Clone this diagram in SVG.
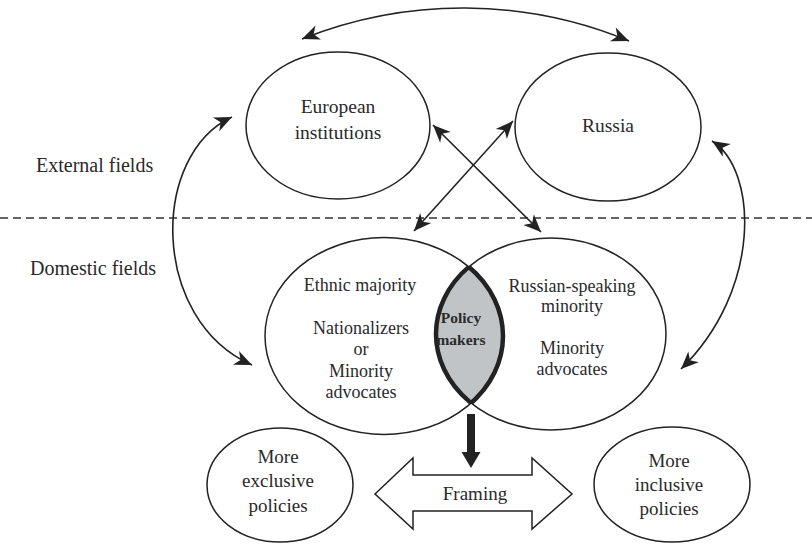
<svg xmlns="http://www.w3.org/2000/svg" width="812" height="544" viewBox="0 0 812 544">
  <style>
    .shape { fill: none; stroke: #222; stroke-width: 1.5; }
    .conn { fill: none; stroke: #222; stroke-width: 1.6; marker-start: url(#dart); marker-end: url(#dart); }
    text { font-family: "Liberation Serif", "Times New Roman", serif; fill: #2a2a2a; text-anchor: middle; }
    .top { font-size: 19.5px; }
    .side { font-size: 20px; text-anchor: start; }
    .venn { font-size: 18px; }
    .bold { font-size: 15.5px; font-weight: bold; }
    .low { font-size: 19px; }
  </style>
  <defs>
    <marker id="dart" viewBox="-19 -9 21 18" refX="0" refY="0" markerWidth="21" markerHeight="18" markerUnits="userSpaceOnUse" orient="auto-start-reverse">
      <path d="M0,0 L-17.5,-7.5 L-12.5,0 L-17.5,7.5 Z" fill="#222"/>
    </marker>
    <clipPath id="clipLeft"><ellipse cx="384" cy="336" rx="119" ry="98.5"/></clipPath>
    <clipPath id="clipRight"><ellipse cx="551" cy="334" rx="115" ry="96"/></clipPath>
  </defs>

  <rect width="812" height="544" fill="#fff"/>

  <!-- field divider and field labels -->
  <line x1="0" y1="218" x2="812" y2="218" stroke="#333" stroke-width="1.3" stroke-dasharray="8 5"/>
  <text class="side" x="36" y="172">External fields</text>
  <text class="side" x="30" y="275">Domestic fields</text>

  <!-- connectors -->
  <g id="connectors">
    <path class="conn" d="M302,39 A434,434 0 0 1 629,41"/>
    <path class="conn" d="M433,125 L541,232"/>
    <path class="conn" d="M513,121 L414,231"/>
    <path class="conn" d="M232,117 C150,155 150,320 252,365"/>
    <path class="conn" d="M712,141 C758,170 762,290 681,369"/>
  </g>

  <g id="european-institutions">
    <ellipse class="shape" cx="338" cy="125.5" rx="92" ry="73.5"/>
    <text class="top" x="338" y="113">European</text>
    <text class="top" x="338" y="139">institutions</text>
  </g>

  <g id="russia">
    <ellipse class="shape" cx="608" cy="127" rx="93" ry="74"/>
    <text class="top" x="608" y="132">Russia</text>
  </g>

  <g id="ethnic-majority">
    <ellipse class="shape" cx="384" cy="336" rx="119" ry="98.5"/>
    <text class="venn" x="360" y="291">Ethnic majority</text>
    <text class="venn" x="361" y="334">Nationalizers</text>
    <text class="venn" x="361" y="355">or</text>
    <text class="venn" x="361" y="377">Minority</text>
    <text class="venn" x="361" y="398">advocates</text>
  </g>

  <g id="russian-speaking-minority">
    <ellipse class="shape" cx="551" cy="334" rx="115" ry="96"/>
    <text class="venn" x="572" y="292">Russian-speaking</text>
    <text class="venn" x="572" y="312">minority</text>
    <text class="venn" x="572" y="354">Minority</text>
    <text class="venn" x="572" y="375">advocates</text>
  </g>

  <g id="policy-makers">
    <g clip-path="url(#clipRight)">
      <ellipse cx="384" cy="336" rx="119" ry="98.5" fill="#c1c4c7" stroke="#222" stroke-width="4.5"/>
    </g>
    <g clip-path="url(#clipLeft)">
      <ellipse cx="551" cy="334" rx="115" ry="96" fill="none" stroke="#222" stroke-width="4.5"/>
    </g>
    <text class="bold" x="461" y="323">Policy</text>
    <text class="bold" x="461" y="345">makers</text>
  </g>

  <g id="output-arrow">
    <rect x="467" y="414" width="8" height="40" fill="#222"/>
    <path d="M461.5,452 L480.5,452 L471,468 Z" fill="#222"/>
  </g>

  <g id="framing">
    <path class="shape" d="M375,494 L413,458 L413,475 L532,475 L532,458 L572,494 L532,529 L532,511 L413,511 L413,529 Z" fill="#fff"/>
    <text class="low" x="475" y="500">Framing</text>
  </g>

  <g id="more-exclusive-policies">
    <ellipse class="shape" cx="280" cy="485" rx="73" ry="57"/>
    <text class="low" x="278" y="463">More</text>
    <text class="low" x="278" y="487">exclusive</text>
    <text class="low" x="278" y="512">policies</text>
  </g>

  <g id="more-inclusive-policies">
    <ellipse class="shape" cx="672" cy="484.5" rx="78" ry="57.5"/>
    <text class="low" x="669" y="467">More</text>
    <text class="low" x="669" y="491">inclusive</text>
    <text class="low" x="669" y="515">policies</text>
  </g>
</svg>
